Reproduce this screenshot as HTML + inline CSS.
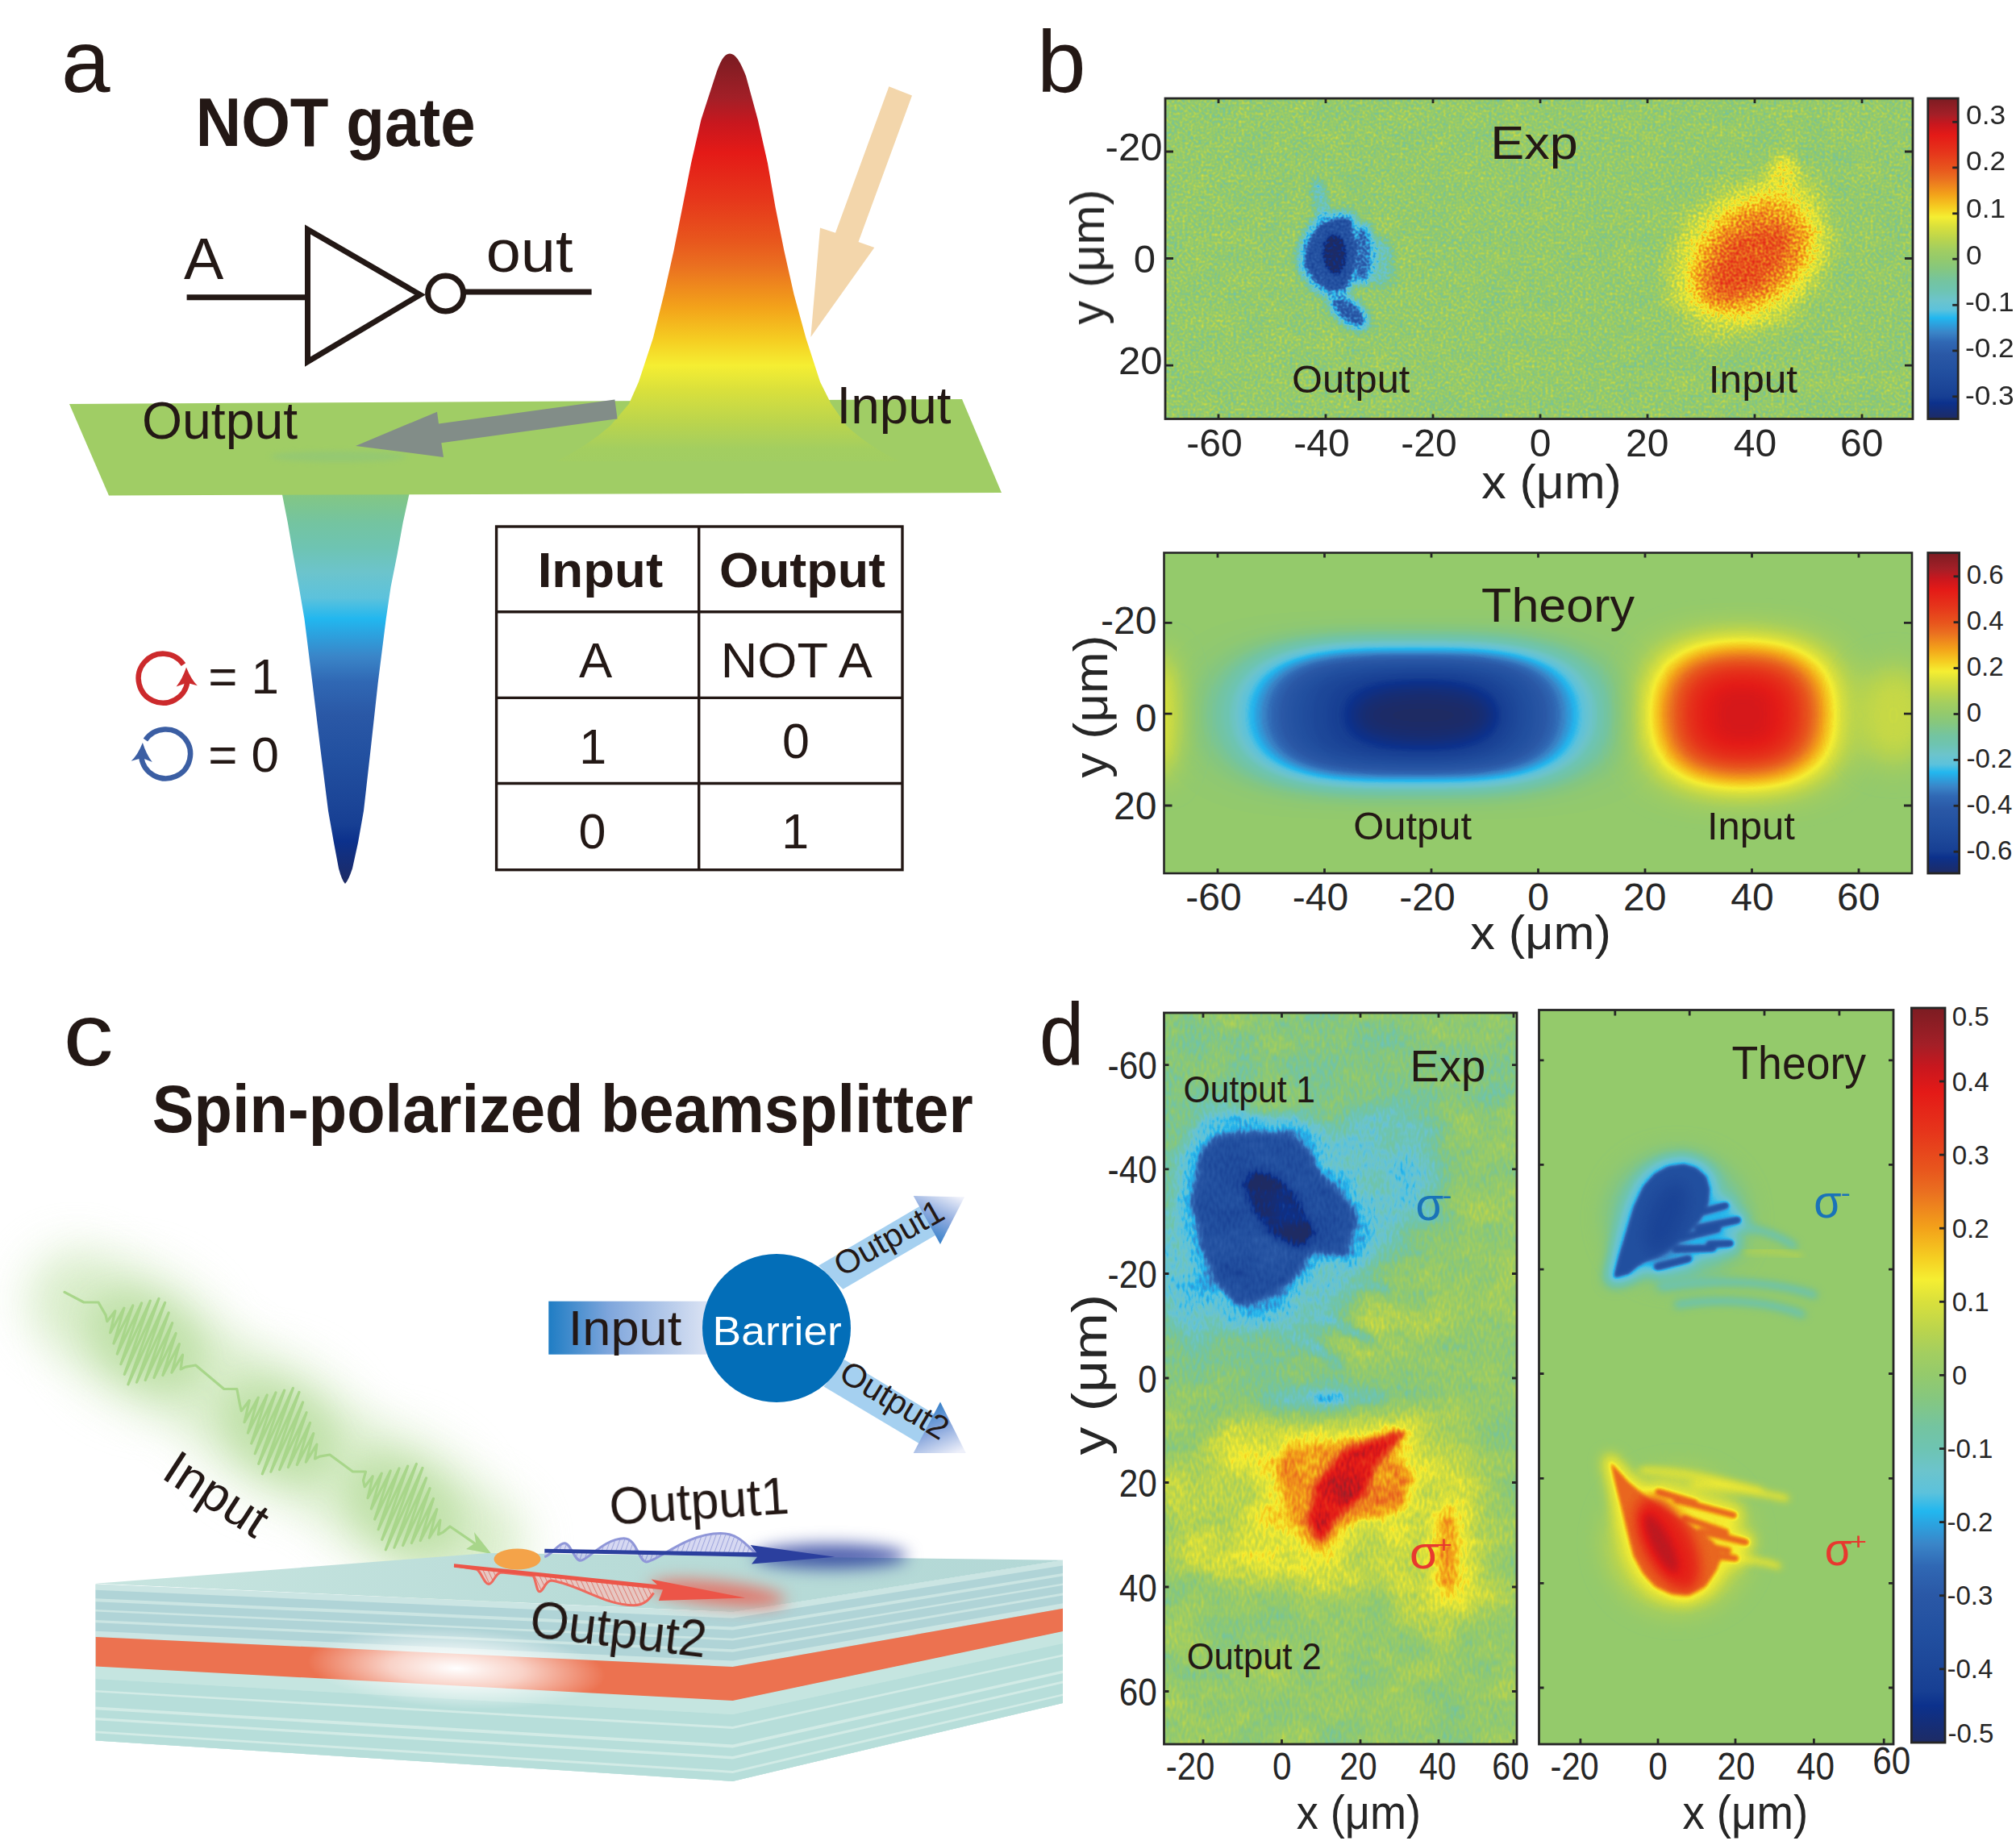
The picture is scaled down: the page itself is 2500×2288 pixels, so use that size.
<!DOCTYPE html>
<html><head><meta charset="utf-8"><title>Figure</title>
<style>html,body{margin:0;padding:0;background:#fff}svg{display:block}text{font-family:"Liberation Sans",sans-serif}</style>
</head><body>
<svg width="2500" height="2288" viewBox="0 0 2500 2288">
<defs>
<filter id="cm" x="0" y="0" width="1" height="1" color-interpolation-filters="sRGB"><feComponentTransfer><feFuncR type="table" tableValues="0.118 0.104 0.089 0.075 0.061 0.047 0.069 0.090 0.097 0.103 0.110 0.115 0.119 0.124 0.129 0.133 0.140 0.146 0.152 0.158 0.165 0.171 0.176 0.182 0.188 0.201 0.214 0.227 0.207 0.186 0.165 0.144 0.179 0.270 0.361 0.382 0.403 0.424 0.426 0.429 0.431 0.439 0.447 0.455 0.473 0.490 0.508 0.525 0.544 0.562 0.580 0.600 0.620 0.639 0.668 0.697 0.725 0.757 0.788 0.820 0.851 0.888 0.924 0.961 0.961 0.961 0.961 0.959 0.957 0.955 0.953 0.946 0.939 0.932 0.925 0.918 0.915 0.912 0.910 0.908 0.907 0.905 0.904 0.902 0.901 0.899 0.898 0.896 0.895 0.878 0.847 0.816 0.784 0.736 0.688 0.639 0.609 0.578 0.547 0.517 0.486"/><feFuncG type="table" tableValues="0.169 0.173 0.178 0.183 0.187 0.192 0.220 0.247 0.256 0.265 0.275 0.282 0.290 0.298 0.306 0.314 0.320 0.326 0.333 0.339 0.345 0.361 0.376 0.392 0.408 0.446 0.484 0.522 0.565 0.608 0.651 0.695 0.726 0.744 0.761 0.763 0.766 0.769 0.769 0.769 0.769 0.769 0.769 0.769 0.772 0.775 0.777 0.780 0.784 0.788 0.792 0.797 0.803 0.808 0.816 0.824 0.831 0.843 0.855 0.867 0.878 0.897 0.915 0.933 0.892 0.850 0.808 0.765 0.722 0.678 0.635 0.595 0.555 0.515 0.475 0.435 0.403 0.370 0.337 0.312 0.287 0.262 0.237 0.212 0.192 0.172 0.152 0.132 0.112 0.100 0.097 0.094 0.090 0.101 0.111 0.122 0.119 0.117 0.115 0.112 0.110"/><feFuncB type="table" tableValues="0.392 0.424 0.455 0.486 0.518 0.549 0.563 0.576 0.583 0.590 0.596 0.602 0.609 0.615 0.621 0.627 0.632 0.637 0.642 0.646 0.651 0.665 0.678 0.692 0.706 0.732 0.758 0.784 0.818 0.852 0.886 0.920 0.922 0.893 0.863 0.842 0.821 0.800 0.766 0.732 0.698 0.675 0.651 0.627 0.594 0.561 0.527 0.494 0.471 0.447 0.424 0.408 0.392 0.376 0.353 0.329 0.306 0.288 0.271 0.253 0.235 0.222 0.209 0.196 0.175 0.154 0.133 0.125 0.118 0.110 0.102 0.107 0.111 0.116 0.121 0.125 0.122 0.118 0.114 0.112 0.111 0.109 0.107 0.106 0.103 0.100 0.097 0.094 0.092 0.094 0.102 0.110 0.118 0.129 0.141 0.153 0.149 0.145 0.141 0.137 0.133"/></feComponentTransfer></filter>
<filter id="cmn1" x="0" y="0" width="1" height="1" color-interpolation-filters="sRGB"><feTurbulence type="fractalNoise" baseFrequency="0.3 0.3" numOctaves="1" seed="3" result="n"/><feColorMatrix in="n" type="matrix" values="1 0 0 0 0  1 0 0 0 0  1 0 0 0 0  0 0 0 0 1" result="ng"/><feComposite in="SourceGraphic" in2="ng" operator="arithmetic" k1="0" k2="1" k3="0.24" k4="-0.120" result="s"/>
<feTurbulence type="fractalNoise" baseFrequency="0.03 0.039" numOctaves="2" seed="14" result="m"/><feColorMatrix in="m" type="matrix" values="1 0 0 0 0  1 0 0 0 0  1 0 0 0 0  0 0 0 0 1" result="mg"/><feComposite in="s" in2="mg" operator="arithmetic" k1="0" k2="1" k3="0.05" k4="-0.025" result="s2"/>
<feComponentTransfer in="s2"><feFuncR type="table" tableValues="0.118 0.104 0.089 0.075 0.061 0.047 0.069 0.090 0.097 0.103 0.110 0.115 0.119 0.124 0.129 0.133 0.140 0.146 0.152 0.158 0.165 0.171 0.176 0.182 0.188 0.201 0.214 0.227 0.207 0.186 0.165 0.144 0.179 0.270 0.361 0.382 0.403 0.424 0.426 0.429 0.431 0.439 0.447 0.455 0.473 0.490 0.508 0.525 0.544 0.562 0.580 0.600 0.620 0.639 0.668 0.697 0.725 0.757 0.788 0.820 0.851 0.888 0.924 0.961 0.961 0.961 0.961 0.959 0.957 0.955 0.953 0.946 0.939 0.932 0.925 0.918 0.915 0.912 0.910 0.908 0.907 0.905 0.904 0.902 0.901 0.899 0.898 0.896 0.895 0.878 0.847 0.816 0.784 0.736 0.688 0.639 0.609 0.578 0.547 0.517 0.486"/><feFuncG type="table" tableValues="0.169 0.173 0.178 0.183 0.187 0.192 0.220 0.247 0.256 0.265 0.275 0.282 0.290 0.298 0.306 0.314 0.320 0.326 0.333 0.339 0.345 0.361 0.376 0.392 0.408 0.446 0.484 0.522 0.565 0.608 0.651 0.695 0.726 0.744 0.761 0.763 0.766 0.769 0.769 0.769 0.769 0.769 0.769 0.769 0.772 0.775 0.777 0.780 0.784 0.788 0.792 0.797 0.803 0.808 0.816 0.824 0.831 0.843 0.855 0.867 0.878 0.897 0.915 0.933 0.892 0.850 0.808 0.765 0.722 0.678 0.635 0.595 0.555 0.515 0.475 0.435 0.403 0.370 0.337 0.312 0.287 0.262 0.237 0.212 0.192 0.172 0.152 0.132 0.112 0.100 0.097 0.094 0.090 0.101 0.111 0.122 0.119 0.117 0.115 0.112 0.110"/><feFuncB type="table" tableValues="0.392 0.424 0.455 0.486 0.518 0.549 0.563 0.576 0.583 0.590 0.596 0.602 0.609 0.615 0.621 0.627 0.632 0.637 0.642 0.646 0.651 0.665 0.678 0.692 0.706 0.732 0.758 0.784 0.818 0.852 0.886 0.920 0.922 0.893 0.863 0.842 0.821 0.800 0.766 0.732 0.698 0.675 0.651 0.627 0.594 0.561 0.527 0.494 0.471 0.447 0.424 0.408 0.392 0.376 0.353 0.329 0.306 0.288 0.271 0.253 0.235 0.222 0.209 0.196 0.175 0.154 0.133 0.125 0.118 0.110 0.102 0.107 0.111 0.116 0.121 0.125 0.122 0.118 0.114 0.112 0.111 0.109 0.107 0.106 0.103 0.100 0.097 0.094 0.092 0.094 0.102 0.110 0.118 0.129 0.141 0.153 0.149 0.145 0.141 0.137 0.133"/></feComponentTransfer></filter>
<filter id="cmn2" x="0" y="0" width="1" height="1" color-interpolation-filters="sRGB"><feTurbulence type="fractalNoise" baseFrequency="0.3 0.12" numOctaves="1" seed="7" result="n"/><feColorMatrix in="n" type="matrix" values="1 0 0 0 0  1 0 0 0 0  1 0 0 0 0  0 0 0 0 1" result="ng"/><feComposite in="SourceGraphic" in2="ng" operator="arithmetic" k1="0" k2="1" k3="0.14" k4="-0.070" result="s"/>
<feTurbulence type="fractalNoise" baseFrequency="0.018 0.023" numOctaves="2" seed="18" result="m"/><feColorMatrix in="m" type="matrix" values="1 0 0 0 0  1 0 0 0 0  1 0 0 0 0  0 0 0 0 1" result="mg"/><feComposite in="s" in2="mg" operator="arithmetic" k1="0" k2="1" k3="0.13" k4="-0.065" result="s2"/>
<feComponentTransfer in="s2"><feFuncR type="table" tableValues="0.118 0.104 0.089 0.075 0.061 0.047 0.069 0.090 0.097 0.103 0.110 0.115 0.119 0.124 0.129 0.133 0.140 0.146 0.152 0.158 0.165 0.171 0.176 0.182 0.188 0.201 0.214 0.227 0.207 0.186 0.165 0.144 0.179 0.270 0.361 0.382 0.403 0.424 0.426 0.429 0.431 0.439 0.447 0.455 0.473 0.490 0.508 0.525 0.544 0.562 0.580 0.600 0.620 0.639 0.668 0.697 0.725 0.757 0.788 0.820 0.851 0.888 0.924 0.961 0.961 0.961 0.961 0.959 0.957 0.955 0.953 0.946 0.939 0.932 0.925 0.918 0.915 0.912 0.910 0.908 0.907 0.905 0.904 0.902 0.901 0.899 0.898 0.896 0.895 0.878 0.847 0.816 0.784 0.736 0.688 0.639 0.609 0.578 0.547 0.517 0.486"/><feFuncG type="table" tableValues="0.169 0.173 0.178 0.183 0.187 0.192 0.220 0.247 0.256 0.265 0.275 0.282 0.290 0.298 0.306 0.314 0.320 0.326 0.333 0.339 0.345 0.361 0.376 0.392 0.408 0.446 0.484 0.522 0.565 0.608 0.651 0.695 0.726 0.744 0.761 0.763 0.766 0.769 0.769 0.769 0.769 0.769 0.769 0.769 0.772 0.775 0.777 0.780 0.784 0.788 0.792 0.797 0.803 0.808 0.816 0.824 0.831 0.843 0.855 0.867 0.878 0.897 0.915 0.933 0.892 0.850 0.808 0.765 0.722 0.678 0.635 0.595 0.555 0.515 0.475 0.435 0.403 0.370 0.337 0.312 0.287 0.262 0.237 0.212 0.192 0.172 0.152 0.132 0.112 0.100 0.097 0.094 0.090 0.101 0.111 0.122 0.119 0.117 0.115 0.112 0.110"/><feFuncB type="table" tableValues="0.392 0.424 0.455 0.486 0.518 0.549 0.563 0.576 0.583 0.590 0.596 0.602 0.609 0.615 0.621 0.627 0.632 0.637 0.642 0.646 0.651 0.665 0.678 0.692 0.706 0.732 0.758 0.784 0.818 0.852 0.886 0.920 0.922 0.893 0.863 0.842 0.821 0.800 0.766 0.732 0.698 0.675 0.651 0.627 0.594 0.561 0.527 0.494 0.471 0.447 0.424 0.408 0.392 0.376 0.353 0.329 0.306 0.288 0.271 0.253 0.235 0.222 0.209 0.196 0.175 0.154 0.133 0.125 0.118 0.110 0.102 0.107 0.111 0.116 0.121 0.125 0.122 0.118 0.114 0.112 0.111 0.109 0.107 0.106 0.103 0.100 0.097 0.094 0.092 0.094 0.102 0.110 0.118 0.129 0.141 0.153 0.149 0.145 0.141 0.137 0.133"/></feComponentTransfer></filter>
<filter id="b2" x="-50%" y="-50%" width="200%" height="200%" color-interpolation-filters="sRGB"><feGaussianBlur stdDeviation="2"/></filter>
<filter id="b3" x="-50%" y="-50%" width="200%" height="200%" color-interpolation-filters="sRGB"><feGaussianBlur stdDeviation="3"/></filter>
<filter id="b4" x="-50%" y="-50%" width="200%" height="200%" color-interpolation-filters="sRGB"><feGaussianBlur stdDeviation="4"/></filter>
<filter id="b5" x="-50%" y="-50%" width="200%" height="200%" color-interpolation-filters="sRGB"><feGaussianBlur stdDeviation="5"/></filter>
<filter id="b6" x="-50%" y="-50%" width="200%" height="200%" color-interpolation-filters="sRGB"><feGaussianBlur stdDeviation="6"/></filter>
<filter id="b8" x="-50%" y="-50%" width="200%" height="200%" color-interpolation-filters="sRGB"><feGaussianBlur stdDeviation="8"/></filter>
<filter id="b10" x="-50%" y="-50%" width="200%" height="200%" color-interpolation-filters="sRGB"><feGaussianBlur stdDeviation="10"/></filter>
<filter id="b12" x="-50%" y="-50%" width="200%" height="200%" color-interpolation-filters="sRGB"><feGaussianBlur stdDeviation="12"/></filter>
<filter id="b14" x="-50%" y="-50%" width="200%" height="200%" color-interpolation-filters="sRGB"><feGaussianBlur stdDeviation="14"/></filter>
<filter id="b18" x="-50%" y="-50%" width="200%" height="200%" color-interpolation-filters="sRGB"><feGaussianBlur stdDeviation="18"/></filter>
<filter id="b24" x="-50%" y="-50%" width="200%" height="200%" color-interpolation-filters="sRGB"><feGaussianBlur stdDeviation="24"/></filter>
<filter id="b30" x="-50%" y="-50%" width="200%" height="200%" color-interpolation-filters="sRGB"><feGaussianBlur stdDeviation="30"/></filter>
<filter id="b46_24" x="-60%" y="-60%" width="220%" height="220%" color-interpolation-filters="sRGB"><feGaussianBlur stdDeviation="46 24"/></filter>
<filter id="b36_27" x="-60%" y="-60%" width="220%" height="220%" color-interpolation-filters="sRGB"><feGaussianBlur stdDeviation="36 27"/></filter>
<filter id="b55_22" x="-60%" y="-60%" width="220%" height="220%" color-interpolation-filters="sRGB"><feGaussianBlur stdDeviation="55 22"/></filter>
<filter id="b14_10" x="-60%" y="-60%" width="220%" height="220%" color-interpolation-filters="sRGB"><feGaussianBlur stdDeviation="14 10"/></filter>
<filter id="b20_12" x="-60%" y="-60%" width="220%" height="220%" color-interpolation-filters="sRGB"><feGaussianBlur stdDeviation="20 12"/></filter>
<filter id="b8_3" x="-60%" y="-60%" width="220%" height="220%" color-interpolation-filters="sRGB"><feGaussianBlur stdDeviation="8 3"/></filter>
<filter id="b3_8" x="-60%" y="-60%" width="220%" height="220%" color-interpolation-filters="sRGB"><feGaussianBlur stdDeviation="3 8"/></filter>
<filter id="b10_4" x="-60%" y="-60%" width="220%" height="220%" color-interpolation-filters="sRGB"><feGaussianBlur stdDeviation="10 4"/></filter>
<linearGradient id="cbar" x1="0" y1="0" x2="0" y2="1">
<stop offset="0.0000" stop-color="#7c1c22"/>
<stop offset="0.0500" stop-color="#a31f27"/>
<stop offset="0.0800" stop-color="#c8171e"/>
<stop offset="0.1150" stop-color="#e41a17"/>
<stop offset="0.1700" stop-color="#e6361b"/>
<stop offset="0.2200" stop-color="#e8561d"/>
<stop offset="0.2500" stop-color="#ea6f20"/>
<stop offset="0.3000" stop-color="#f3a21a"/>
<stop offset="0.3400" stop-color="#f5ce22"/>
<stop offset="0.3700" stop-color="#f5ee32"/>
<stop offset="0.4000" stop-color="#d9e03c"/>
<stop offset="0.4400" stop-color="#b9d44e"/>
<stop offset="0.4700" stop-color="#a3ce60"/>
<stop offset="0.5000" stop-color="#94ca6c"/>
<stop offset="0.5300" stop-color="#86c77e"/>
<stop offset="0.5700" stop-color="#74c4a0"/>
<stop offset="0.6000" stop-color="#6ec4b2"/>
<stop offset="0.6300" stop-color="#6cc4cc"/>
<stop offset="0.6600" stop-color="#5cc2dc"/>
<stop offset="0.6850" stop-color="#22b7ef"/>
<stop offset="0.7000" stop-color="#2aa6e2"/>
<stop offset="0.7300" stop-color="#3a85c8"/>
<stop offset="0.7600" stop-color="#3068b4"/>
<stop offset="0.8000" stop-color="#2a58a6"/>
<stop offset="0.8500" stop-color="#2250a0"/>
<stop offset="0.9000" stop-color="#1c4698"/>
<stop offset="0.9300" stop-color="#173f93"/>
<stop offset="0.9500" stop-color="#0c318c"/>
<stop offset="1.0000" stop-color="#1e2b64"/>
</linearGradient>
</defs>
<rect width="2500" height="2288" fill="#fff"/>
<g id="panel-a">
<defs><linearGradient id="gdip" gradientUnits="userSpaceOnUse" x1="0" y1="575" x2="0" y2="1095">
<stop offset="0" stop-color="#a0cd65"/>
<stop offset="0.0600" stop-color="#86c77e"/>
<stop offset="0.1400" stop-color="#74c4a0"/>
<stop offset="0.2000" stop-color="#6ec4b2"/>
<stop offset="0.2600" stop-color="#6cc4cc"/>
<stop offset="0.3200" stop-color="#5cc2dc"/>
<stop offset="0.3700" stop-color="#22b7ef"/>
<stop offset="0.4000" stop-color="#2aa6e2"/>
<stop offset="0.4600" stop-color="#3a85c8"/>
<stop offset="0.5200" stop-color="#3068b4"/>
<stop offset="0.6000" stop-color="#2a58a6"/>
<stop offset="0.7000" stop-color="#2250a0"/>
<stop offset="0.8000" stop-color="#1c4698"/>
<stop offset="0.8600" stop-color="#173f93"/>
<stop offset="0.9000" stop-color="#0c318c"/>
<stop offset="1.0000" stop-color="#1e2b64"/>
</linearGradient>
<linearGradient id="gpeak" gradientUnits="userSpaceOnUse" x1="0" y1="70" x2="0" y2="588">
<stop offset="0.0000" stop-color="#7c1c22"/>
<stop offset="0.1000" stop-color="#a31f27"/>
<stop offset="0.1600" stop-color="#c8171e"/>
<stop offset="0.2300" stop-color="#e41a17"/>
<stop offset="0.3400" stop-color="#e6361b"/>
<stop offset="0.4400" stop-color="#e8561d"/>
<stop offset="0.5000" stop-color="#ea6f20"/>
<stop offset="0.6000" stop-color="#f3a21a"/>
<stop offset="0.6800" stop-color="#f5ce22"/>
<stop offset="0.7400" stop-color="#f5ee32"/>
<stop offset="0.8000" stop-color="#d9e03c"/>
<stop offset="0.8800" stop-color="#b9d44e"/>
<stop offset="0.9400" stop-color="#a3ce60"/>
<stop offset="1" stop-color="#a0cd65"/>
</linearGradient></defs>
<path d="M349.7,612.0 L356.8,648.0 L363.6,688.0 L370.7,727.8 L377.5,767.5 L387.4,846.8 L397.0,926.0 L407.0,1005.6 L414.0,1045.0 L420.0,1077.0 Q424,1092 428,1096 Q432,1092 437.0,1077.0 L444.0,1045.0 L451.0,1005.6 L460.0,926.0 L468.7,846.8 L478.7,767.5 L484.6,727.8 L492.5,688.0 L499.7,648.0 L507.6,612.0 Z" fill="url(#gdip)"/>
<polygon points="86,501 1193,495 1242,611 135,614.5" fill="#a0cd65"/>
<ellipse cx="420" cy="566" rx="85" ry="7" fill="#8ec67a" opacity="0.6" filter="url(#b3)"/>
<path d="M690,572 Q730,552 757.0,527.8 L780.0,500.7 L792.0,473.6 L809.8,419.4 L823.3,365.2 L835.5,311.0 L846.3,256.8 L857.0,202.6 L869.4,148.4 L887.0,94.2 C893,76 898,66.5 905,66.5 C912,66.5 918,76 925.0,94.2 L939.8,148.4 L952.0,202.6 L961.5,256.8 L972.4,311.0 L984.6,365.2 L999.5,419.4 L1017.0,473.6 L1030.6,500.7 L1049.6,527.8 Q1075,552 1115,572 Z" fill="url(#gpeak)"/>
<polygon points="1102.4,107.2 1131,118.6 1064.5,300 1084.3,307 1005.4,418 1017,282.5 1036,288.8" fill="#f3d6ab"/>
<polygon points="762.4,495.6 765.6,519.4 547.3,549.2 550,567 441,553 542,510.7 544,525.4" fill="#828d88"/>
<text x="75.9" y="114.0" font-size="110" fill="#231815" textLength="60.6" lengthAdjust="spacingAndGlyphs">a</text>
<text x="242.8" y="181.0" font-size="85" fill="#231815" font-weight="bold" textLength="346.9" lengthAdjust="spacingAndGlyphs">NOT gate</text>
<text x="227.9" y="346.0" font-size="72" fill="#231815" textLength="49.3" lengthAdjust="spacingAndGlyphs">A</text>
<text x="602.7" y="337.0" font-size="74" fill="#231815" textLength="107.8" lengthAdjust="spacingAndGlyphs">out</text>
<text x="176.0" y="544.4" font-size="64" fill="#231815" textLength="193.2" lengthAdjust="spacingAndGlyphs">Output</text>
<text x="1037.6" y="524.7" font-size="64" fill="#231815" textLength="141.9" lengthAdjust="spacingAndGlyphs">Input</text>
<g fill="none" stroke="#231815" stroke-width="7">
<line x1="231.6" y1="368.7" x2="381" y2="368.7"/>
<polygon points="381.5,284.5 381.5,448.5 521,365.5" stroke-linejoin="miter"/>
<circle cx="552.6" cy="364" r="22"/>
<line x1="576" y1="362" x2="733.6" y2="362"/>
</g>
<path d="M232.4,845.4 A30.5,30.5 0 1 1 227.5,824.1" fill="none" stroke="#cc2a2c" stroke-width="6.5"/>
<path d="M231.0,827.6 Q237.2,843.2 244.8,850.2 L231.7,846.7 L218.6,851.4 Q226.2,842.2 231.0,827.6 Z" fill="#cc2a2c"/>
<path d="M175.3,939.1 A30.5,30.5 0 1 0 180.4,917.6" fill="none" stroke="#3b5ea3" stroke-width="6.5"/>
<path d="M176.9,921.0 Q170.5,936.9 162.6,943.7 L176.3,940.1 L188.8,944.9 Q181.5,935.9 176.9,921.0 Z" fill="#3b5ea3"/>
<text x="258.2" y="860.0" font-size="62" fill="#231815" textLength="87.9" lengthAdjust="spacingAndGlyphs">= 1</text>
<text x="258.2" y="956.5" font-size="62" fill="#231815" textLength="87.9" lengthAdjust="spacingAndGlyphs">= 0</text>
<g fill="none" stroke="#231815" stroke-width="3.4">
<rect x="615.6" y="653" width="503.4" height="425.7"/>
<line x1="866.7" y1="653" x2="866.7" y2="1078.7"/>
<line x1="615.6" y1="758.7" x2="1119" y2="758.7"/>
<line x1="615.6" y1="865.4" x2="1119" y2="865.4"/>
<line x1="615.6" y1="971.5" x2="1119" y2="971.5"/>
</g>
<text x="666.7" y="727.8" font-size="61" fill="#231815" font-weight="bold" textLength="155.5" lengthAdjust="spacingAndGlyphs">Input</text>
<text x="892.0" y="727.8" font-size="61" fill="#231815" font-weight="bold" textLength="206.0" lengthAdjust="spacingAndGlyphs">Output</text>
<text x="717.9" y="839.7" font-size="61" fill="#231815" textLength="41.2" lengthAdjust="spacingAndGlyphs">A</text>
<text x="893.8" y="839.7" font-size="61" fill="#231815" textLength="188.1" lengthAdjust="spacingAndGlyphs">NOT A</text>
<text x="718.2" y="946.8" font-size="61" fill="#231815" textLength="33.9" lengthAdjust="spacingAndGlyphs">1</text>
<text x="970.0" y="940.0" font-size="61" fill="#231815" textLength="33.9" lengthAdjust="spacingAndGlyphs">0</text>
<text x="717.6" y="1052.4" font-size="61" fill="#231815" textLength="33.9" lengthAdjust="spacingAndGlyphs">0</text>
<text x="969.2" y="1052.4" font-size="61" fill="#231815" textLength="33.9" lengthAdjust="spacingAndGlyphs">1</text>
</g>
<g id="panel-b">
<text x="1286.0" y="114.0" font-size="110" fill="#231815" textLength="60.6" lengthAdjust="spacingAndGlyphs">b</text>
<clipPath id="cb1"><rect x="1445" y="122" width="927.0" height="397.5"/></clipPath>
<g clip-path="url(#cb1)"><g filter="url(#cmn1)">
<rect x="1405" y="82" width="1007.0" height="477.5" fill="#808080"/>
<g filter="url(#b5)">
<ellipse cx="1638" cy="248" rx="9" ry="30" fill="#616161" transform="rotate(-12 1638 248)"/>
<ellipse cx="1712" cy="326" rx="16" ry="30" fill="#666666"/>
</g><g filter="url(#b4)">
<polygon points="1637.7,266.5 1666.8,260.4 1679.9,264.4 1686.4,288.4 1692.3,298.8 1687.7,340.7 1676.8,358.5 1670.4,368.2 1648.2,371.7 1625.7,358.2 1609.8,336.1 1608.5,312.8 1616.4,288.8 1628.8,273.5" fill="#505050"/>
<ellipse cx="1691" cy="315" rx="15" ry="40" fill="#4f4f4f"/>
<ellipse cx="1673" cy="387" rx="31" ry="17" fill="#4f4f4f" transform="rotate(40 1673 387)"/>
</g><g filter="url(#b2)">
<polygon points="1641.0,277.0 1664.0,271.0 1674.6,274.0 1677.6,295.0 1682.0,302.7 1679.0,334.0 1671.6,348.8 1667.0,357.7 1649.0,360.7 1631.4,348.8 1619.5,331.0 1619.5,313.0 1625.5,295.0 1634.4,283.0" fill="#292929"/>
<ellipse cx="1689" cy="316" rx="8" ry="30" fill="#3d3d3d"/>
<ellipse cx="1673" cy="387" rx="22" ry="9.5" fill="#363636" transform="rotate(40 1673 387)"/>
</g><g filter="url(#b2)">
<ellipse cx="1655" cy="315" rx="14.5" ry="24.5" fill="#000000" transform="rotate(-4 1655 315)"/>
</g>
<ellipse cx="2170" cy="318" rx="112" ry="86" fill="#999999" transform="rotate(-40 2170 318)" filter="url(#b14)"/>
<ellipse cx="2212" cy="222" rx="20" ry="32" fill="#9e9e9e" filter="url(#b8)"/>
<ellipse cx="2172" cy="318" rx="84" ry="60" fill="#b5b5b5" transform="rotate(-40 2172 318)" filter="url(#b10)"/>
<ellipse cx="2168" cy="324" rx="58" ry="32" fill="#c9c9c9" transform="rotate(-40 2168 324)" filter="url(#b10)"/>
</g></g>
<rect x="1445" y="122" width="927.0" height="397.5" fill="none" stroke="#262626" stroke-width="2.8"/>
<path d="M1511.0,122 v6 M1511.0,519.5 v-6" stroke="#262626" stroke-width="2.8" fill="none"/>
<path d="M1644.0,122 v6 M1644.0,519.5 v-6" stroke="#262626" stroke-width="2.8" fill="none"/>
<path d="M1777.0,122 v6 M1777.0,519.5 v-6" stroke="#262626" stroke-width="2.8" fill="none"/>
<path d="M1910.0,122 v6 M1910.0,519.5 v-6" stroke="#262626" stroke-width="2.8" fill="none"/>
<path d="M2043.0,122 v6 M2043.0,519.5 v-6" stroke="#262626" stroke-width="2.8" fill="none"/>
<path d="M2176.0,122 v6 M2176.0,519.5 v-6" stroke="#262626" stroke-width="2.8" fill="none"/>
<path d="M2309.0,122 v6 M2309.0,519.5 v-6" stroke="#262626" stroke-width="2.8" fill="none"/>
<path d="M1445,188.0 h10 M2372,188.0 h-10" stroke="#262626" stroke-width="2.8" fill="none"/>
<path d="M1445,320.5 h10 M2372,320.5 h-10" stroke="#262626" stroke-width="2.8" fill="none"/>
<path d="M1445,453.2 h10 M2372,453.2 h-10" stroke="#262626" stroke-width="2.8" fill="none"/>
<text x="1471.2" y="566.0" font-size="48" fill="#262626" textLength="69.4" lengthAdjust="spacingAndGlyphs">-60</text>
<text x="1604.2" y="566.0" font-size="48" fill="#262626" textLength="69.4" lengthAdjust="spacingAndGlyphs">-40</text>
<text x="1737.2" y="566.0" font-size="48" fill="#262626" textLength="69.4" lengthAdjust="spacingAndGlyphs">-20</text>
<text x="1896.7" y="566.0" font-size="48" fill="#262626" textLength="26.7" lengthAdjust="spacingAndGlyphs">0</text>
<text x="2016.0" y="566.0" font-size="48" fill="#262626" textLength="53.4" lengthAdjust="spacingAndGlyphs">20</text>
<text x="2149.7" y="566.0" font-size="48" fill="#262626" textLength="53.4" lengthAdjust="spacingAndGlyphs">40</text>
<text x="2282.0" y="566.0" font-size="48" fill="#262626" textLength="53.4" lengthAdjust="spacingAndGlyphs">60</text>
<text x="1370.6" y="198.9" font-size="49" fill="#262626" textLength="70.8" lengthAdjust="spacingAndGlyphs">-20</text>
<text x="1405.7" y="337.8" font-size="49" fill="#262626" textLength="27.3" lengthAdjust="spacingAndGlyphs">0</text>
<text x="1386.9" y="464.1" font-size="49" fill="#262626" textLength="54.5" lengthAdjust="spacingAndGlyphs">20</text>
<text x="1837.3" y="617.5" font-size="60" fill="#262626" textLength="173.5" lengthAdjust="spacingAndGlyphs">x (μm)</text>
<text transform="translate(1369.0,402.5) rotate(-90)" x="-0.1" y="0" font-size="60" fill="#262626" textLength="167.8" lengthAdjust="spacingAndGlyphs">y (μm)</text>
<text x="1848.3" y="197.0" font-size="58" fill="#231815" textLength="108.3" lengthAdjust="spacingAndGlyphs">Exp</text>
<text x="1602.0" y="487.0" font-size="48" fill="#231815" textLength="146.4" lengthAdjust="spacingAndGlyphs">Output</text>
<text x="2118.8" y="486.5" font-size="48" fill="#231815" textLength="110.3" lengthAdjust="spacingAndGlyphs">Input</text>
<rect x="2390.8" y="122" width="37.4" height="397.5" fill="url(#cbar)" stroke="#262626" stroke-width="2.8"/>
<path d="M2428.2,151.3 h-7" stroke="#262626" stroke-width="2.8" fill="none"/>
<text x="2438.1" y="153.9" font-size="33" fill="#262626" textLength="49.1" lengthAdjust="spacingAndGlyphs">0.3</text>
<path d="M2428.2,207.9 h-7" stroke="#262626" stroke-width="2.8" fill="none"/>
<text x="2438.1" y="211.2" font-size="33" fill="#262626" textLength="49.1" lengthAdjust="spacingAndGlyphs">0.2</text>
<path d="M2428.2,264.8 h-7" stroke="#262626" stroke-width="2.8" fill="none"/>
<text x="2438.1" y="269.8" font-size="33" fill="#262626" textLength="49.1" lengthAdjust="spacingAndGlyphs">0.1</text>
<path d="M2428.2,321.2 h-7" stroke="#262626" stroke-width="2.8" fill="none"/>
<text x="2438.1" y="327.8" font-size="33" fill="#262626" textLength="19.6" lengthAdjust="spacingAndGlyphs">0</text>
<path d="M2428.2,378.3 h-7" stroke="#262626" stroke-width="2.8" fill="none"/>
<text x="2436.9" y="385.6" font-size="33" fill="#262626" textLength="60.8" lengthAdjust="spacingAndGlyphs">-0.1</text>
<path d="M2428.2,435.0 h-7" stroke="#262626" stroke-width="2.8" fill="none"/>
<text x="2436.9" y="442.9" font-size="33" fill="#262626" textLength="60.8" lengthAdjust="spacingAndGlyphs">-0.2</text>
<path d="M2428.2,491.8 h-7" stroke="#262626" stroke-width="2.8" fill="none"/>
<text x="2436.9" y="502.2" font-size="33" fill="#262626" textLength="60.8" lengthAdjust="spacingAndGlyphs">-0.3</text>
<clipPath id="cb2"><rect x="1443.5" y="685.5" width="927.5" height="397.5"/></clipPath>
<g clip-path="url(#cb2)"><g filter="url(#cm)">
<rect x="1403.5" y="645.5" width="1007.5" height="477.5" fill="#808080"/>
<rect x="1558" y="808" width="390" height="157" rx="78" fill="#131313" filter="url(#b55_22)"/>
<rect x="2060" y="806" width="202" height="160" rx="60" fill="#e6e6e6" filter="url(#b36_27)"/>
<ellipse cx="1765" cy="887" rx="96" ry="38" fill="#000000" filter="url(#b18)"/>
<g filter="url(#b18)">
<ellipse cx="1436" cy="887" rx="26" ry="80" fill="#9e9e9e"/>
<ellipse cx="2348" cy="887" rx="50" ry="62" fill="#939393"/>
</g>
</g></g>
<rect x="1443.5" y="685.5" width="927.5" height="397.5" fill="none" stroke="#262626" stroke-width="2.6"/>
<path d="M1510.0,685.5 v6 M1510.0,1083 v-6" stroke="#262626" stroke-width="2.8" fill="none"/>
<path d="M1642.5,685.5 v6 M1642.5,1083 v-6" stroke="#262626" stroke-width="2.8" fill="none"/>
<path d="M1775.0,685.5 v6 M1775.0,1083 v-6" stroke="#262626" stroke-width="2.8" fill="none"/>
<path d="M1907.5,685.5 v6 M1907.5,1083 v-6" stroke="#262626" stroke-width="2.8" fill="none"/>
<path d="M2040.0,685.5 v6 M2040.0,1083 v-6" stroke="#262626" stroke-width="2.8" fill="none"/>
<path d="M2172.5,685.5 v6 M2172.5,1083 v-6" stroke="#262626" stroke-width="2.8" fill="none"/>
<path d="M2305.0,685.5 v6 M2305.0,1083 v-6" stroke="#262626" stroke-width="2.8" fill="none"/>
<path d="M1443.5,772.3 h10 M2371,772.3 h-10" stroke="#262626" stroke-width="2.8" fill="none"/>
<path d="M1443.5,885.2 h10 M2371,885.2 h-10" stroke="#262626" stroke-width="2.8" fill="none"/>
<path d="M1443.5,999.0 h10 M2371,999.0 h-10" stroke="#262626" stroke-width="2.8" fill="none"/>
<text x="1470.2" y="1129.0" font-size="48" fill="#262626" textLength="69.4" lengthAdjust="spacingAndGlyphs">-60</text>
<text x="1602.7" y="1129.0" font-size="48" fill="#262626" textLength="69.4" lengthAdjust="spacingAndGlyphs">-40</text>
<text x="1735.2" y="1129.0" font-size="48" fill="#262626" textLength="69.4" lengthAdjust="spacingAndGlyphs">-20</text>
<text x="1894.2" y="1129.0" font-size="48" fill="#262626" textLength="26.7" lengthAdjust="spacingAndGlyphs">0</text>
<text x="2013.0" y="1129.0" font-size="48" fill="#262626" textLength="53.4" lengthAdjust="spacingAndGlyphs">20</text>
<text x="2146.2" y="1129.0" font-size="48" fill="#262626" textLength="53.4" lengthAdjust="spacingAndGlyphs">40</text>
<text x="2278.0" y="1129.0" font-size="48" fill="#262626" textLength="53.4" lengthAdjust="spacingAndGlyphs">60</text>
<text x="1365.0" y="786.0" font-size="48" fill="#262626" textLength="69.4" lengthAdjust="spacingAndGlyphs">-20</text>
<text x="1407.7" y="906.5" font-size="48" fill="#262626" textLength="26.7" lengthAdjust="spacingAndGlyphs">0</text>
<text x="1381.0" y="1015.8" font-size="48" fill="#262626" textLength="53.4" lengthAdjust="spacingAndGlyphs">20</text>
<text x="1823.3" y="1177.0" font-size="60" fill="#262626" textLength="174.5" lengthAdjust="spacingAndGlyphs">x (μm)</text>
<text transform="translate(1373.0,964.5) rotate(-90)" x="-0.2" y="0" font-size="60" fill="#262626" textLength="177.0" lengthAdjust="spacingAndGlyphs">y (μm)</text>
<text x="1837.1" y="771.0" font-size="60" fill="#231815" textLength="190.0" lengthAdjust="spacingAndGlyphs">Theory</text>
<text x="1678.2" y="1040.6" font-size="48" fill="#231815" textLength="146.8" lengthAdjust="spacingAndGlyphs">Output</text>
<text x="2117.0" y="1040.6" font-size="48" fill="#231815" textLength="108.9" lengthAdjust="spacingAndGlyphs">Input</text>
<rect x="2390.8" y="685.5" width="38.8" height="397.5" fill="url(#cbar)" stroke="#262626" stroke-width="2.8"/>
<path d="M2429.6,714.8 h-7" stroke="#262626" stroke-width="2.8" fill="none"/>
<text x="2438.7" y="724.3" font-size="33" fill="#262626" textLength="45.9" lengthAdjust="spacingAndGlyphs">0.6</text>
<path d="M2429.6,771.7 h-7" stroke="#262626" stroke-width="2.8" fill="none"/>
<text x="2438.7" y="781.2" font-size="33" fill="#262626" textLength="45.9" lengthAdjust="spacingAndGlyphs">0.4</text>
<path d="M2429.6,828.6 h-7" stroke="#262626" stroke-width="2.8" fill="none"/>
<text x="2438.7" y="838.1" font-size="33" fill="#262626" textLength="45.9" lengthAdjust="spacingAndGlyphs">0.2</text>
<path d="M2429.6,885.5 h-7" stroke="#262626" stroke-width="2.8" fill="none"/>
<text x="2438.7" y="895.0" font-size="33" fill="#262626" textLength="18.4" lengthAdjust="spacingAndGlyphs">0</text>
<path d="M2429.6,942.4 h-7" stroke="#262626" stroke-width="2.8" fill="none"/>
<text x="2438.5" y="951.9" font-size="33" fill="#262626" textLength="56.9" lengthAdjust="spacingAndGlyphs">-0.2</text>
<path d="M2429.6,999.3 h-7" stroke="#262626" stroke-width="2.8" fill="none"/>
<text x="2438.5" y="1008.8" font-size="33" fill="#262626" textLength="56.9" lengthAdjust="spacingAndGlyphs">-0.4</text>
<path d="M2429.6,1056.2 h-7" stroke="#262626" stroke-width="2.8" fill="none"/>
<text x="2438.5" y="1065.7" font-size="33" fill="#262626" textLength="56.9" lengthAdjust="spacingAndGlyphs">-0.6</text>
</g>
<g id="panel-c">
<text x="78.4" y="1320.5" font-size="110" fill="#231815" textLength="62.2" lengthAdjust="spacingAndGlyphs">c</text>
<text x="188.8" y="1404.0" font-size="84" fill="#231815" font-weight="bold" textLength="1017.8" lengthAdjust="spacingAndGlyphs">Spin-polarized beamsplitter</text>
<defs>
<linearGradient id="gin" x1="0" y1="0" x2="1" y2="0"><stop offset="0" stop-color="#1f7dc4"/><stop offset="0.35" stop-color="#7fa6dc"/><stop offset="1" stop-color="#e9ecf7"/></linearGradient>
<linearGradient id="gh1" gradientUnits="userSpaceOnUse" x1="1158" y1="1543" x2="1186" y2="1483"><stop offset="0" stop-color="#2d7cc7"/><stop offset="0.5" stop-color="#8aa8dd"/><stop offset="1" stop-color="#eef0fa"/></linearGradient>
<linearGradient id="gh2" gradientUnits="userSpaceOnUse" x1="1158" y1="1738" x2="1186" y2="1802"><stop offset="0" stop-color="#2d7cc7"/><stop offset="0.5" stop-color="#8aa8dd"/><stop offset="1" stop-color="#eef0fa"/></linearGradient>
</defs>
<rect x="680.3" y="1613.7" width="215" height="66" fill="url(#gin)"/>
<polygon points="1015.2,1569.5 1143.8,1494 1159.7,1532 1045.4,1598.7" fill="#a5d0f0"/>
<polygon points="1047,1686 1159.7,1754.3 1143.8,1792.4 1021.6,1719.4" fill="#a5d0f0"/>
<polygon points="1132.7,1483 1196,1484.4 1166,1543" fill="url(#gh1)"/>
<polygon points="1166,1738.4 1197.8,1802 1132.7,1802" fill="url(#gh2)"/>
<circle cx="963" cy="1647" r="92" fill="#036eb8"/>
<text x="704.7" y="1668.0" font-size="61" fill="#231815" textLength="140.6" lengthAdjust="spacingAndGlyphs">Input</text>
<text x="883.6" y="1668.0" font-size="50" fill="#ffffff" textLength="160.3" lengthAdjust="spacingAndGlyphs">Barrier</text>
<text transform="translate(1046.0,1583.0) rotate(-29.5)" x="-2.0" y="0" font-size="41" fill="#231815" textLength="149.0" lengthAdjust="spacingAndGlyphs">Output1</text>
<text transform="translate(1040.0,1711.0) rotate(31)" x="-2.0" y="0" font-size="41" fill="#231815" textLength="149.1" lengthAdjust="spacingAndGlyphs">Output2</text>
<g filter="url(#b30)" opacity="0.85">
<path d="M95,1612 L180,1663 L347,1774 L500,1868 L590,1915" fill="none" stroke="#d2eac0" stroke-width="120" stroke-linecap="round" stroke-linejoin="round"/>
</g>
<g filter="url(#b30)" opacity="0.55">
<ellipse cx="175" cy="1660" rx="105" ry="82" fill="#d6ecc6" transform="rotate(33 175 1660)"/>
<ellipse cx="345" cy="1772" rx="105" ry="82" fill="#d6ecc6" transform="rotate(33 345 1772)"/>
<ellipse cx="498" cy="1866" rx="105" ry="82" fill="#d6ecc6" transform="rotate(33 498 1866)"/>
</g>
<g filter="url(#b18)" opacity="0.9">
<ellipse cx="180.6" cy="1663" rx="78" ry="52" fill="#bfe0a8" transform="rotate(33 180.6 1663)"/>
<ellipse cx="347" cy="1774" rx="78" ry="52" fill="#bfe0a8" transform="rotate(33 347 1774)"/>
<ellipse cx="500" cy="1868" rx="78" ry="52" fill="#bfe0a8" transform="rotate(33 500 1868)"/>
</g>
<polyline points="80.0,1602.4 104.0,1615.0 122.0,1615.0 131.1,1630.9 132.8,1638.7 142.8,1625.8 136.7,1652.7 153.9,1622.1 141.0,1666.0 164.8,1618.9 145.3,1679.0 175.6,1615.9 149.8,1691.7 186.3,1613.1 154.3,1704.3 197.0,1610.5 158.9,1716.8 204.6,1615.4 169.5,1714.2 209.2,1627.9 180.2,1711.5 213.7,1640.6 191.0,1708.6 218.1,1653.5 201.9,1705.5 222.4,1666.6 212.9,1702.1 226.5,1680.2 224.1,1698.0 230.1,1695.1 242.6,1693.0 277.8,1722.5 293.8,1722.5 297.5,1741.9 299.2,1749.7 309.2,1736.8 303.1,1763.7 320.3,1733.1 307.4,1777.0 331.2,1729.9 311.7,1790.0 342.0,1726.9 316.2,1802.7 352.7,1724.1 320.7,1815.3 363.4,1721.5 325.3,1827.8 371.0,1726.4 335.9,1825.2 375.6,1738.9 346.6,1822.5 380.1,1751.6 357.4,1819.6 384.5,1764.5 368.3,1816.5 388.8,1777.6 379.3,1813.1 392.9,1791.2 390.5,1809.0 396.5,1806.1 409.0,1804.0 437.5,1825.0 453.5,1825.0 450.5,1835.9 452.2,1843.7 462.2,1830.8 456.1,1857.7 473.3,1827.1 460.4,1871.0 484.2,1823.9 464.7,1884.0 495.0,1820.9 469.2,1896.7 505.7,1818.1 473.7,1909.3 516.4,1815.5 478.3,1921.8 524.0,1820.4 488.9,1919.2 528.6,1832.9 499.6,1916.5 533.1,1845.6 510.4,1913.6 537.5,1858.5 521.3,1910.5 541.8,1871.6 532.3,1907.1 545.9,1885.2 543.5,1903.0 549.5,1900.1 558.0,1893.0 596.0,1919.0" fill="none" stroke="#a8d68a" stroke-width="3.2" stroke-linejoin="round" stroke-linecap="round"/>
<polygon points="609.4,1927 578,1921 590,1913 588,1900" fill="#a8d68a"/>
<text transform="translate(203.0,1835.0) rotate(33)" x="-5.8" y="0" font-size="61" fill="#231815" textLength="140.8" lengthAdjust="spacingAndGlyphs">Input</text>
<defs><linearGradient id="gtop" x1="0" y1="0" x2="1" y2="0"><stop offset="0" stop-color="#c8e5e0"/><stop offset="0.5" stop-color="#b9dcd8"/><stop offset="1" stop-color="#b3d8d6"/></linearGradient>
<radialGradient id="gglow" cx="0.5" cy="0.5" r="0.5"><stop offset="0" stop-color="#fff" stop-opacity="1"/><stop offset="0.45" stop-color="#fff" stop-opacity="0.68"/><stop offset="1" stop-color="#fff" stop-opacity="0"/></radialGradient></defs>
<polygon points="118.5,1964.6 908.6,1999.3 908.6,2208.9 118.5,2158.5" fill="#c3e2de"/>
<polygon points="908.6,1999.3 1318,1934.8 1318,2112 908.6,2208.9" fill="#b4dad6"/>
<polygon points="118.7,1963.8 605,1926 1318,1934.8 908.6,1999.3" fill="url(#gtop)"/>
<polygon points="118.7,1964.6 908.6,1999.3 1318.0,1934.8 1318.0,1994.8 908.6,2067.0 118.7,2030.0" fill="#cbe5e3"/>
<polygon points="118.7,1971.8 908.6,2006.7 1318.0,1941.4 1318.0,1951.0 908.6,2017.6 118.7,1982.3" fill="#b0d4d7"/>
<polygon points="118.7,1986.2 908.6,2021.6 1318.0,1954.6 1318.0,1963.6 908.6,2031.8 118.7,1996.0" fill="#b0d4d7"/>
<polygon points="118.7,1998.6 908.6,2034.5 1318.0,1966.0 1318.0,1975.6 908.6,2045.3 118.7,2009.1" fill="#b0d4d7"/>
<polygon points="118.7,2012.3 908.6,2048.7 1318.0,1978.6 1318.0,1988.2 908.6,2059.6 118.7,2022.8" fill="#b0d4d7"/>
<polygon points="118.7,2066.4 908.6,2109.0 1318.0,2023.0 1318.0,2112.0 908.6,2208.9 118.7,2158.5" fill="#d2ebe6"/>
<polygon points="118.7,2066.4 908.6,2109.0 1318.0,2023.0 1318.0,2038.1 908.6,2126.0 118.7,2082.1" fill="#c5e5e0"/>
<polygon points="118.7,2082.1 908.6,2126.0 1318.0,2038.1 1318.0,2051.5 908.6,2141.0 118.7,2095.9" fill="#b7deda"/>
<polygon points="118.7,2098.6 908.6,2144.0 1318.0,2054.2 1318.0,2071.5 908.6,2163.4 118.7,2116.6" fill="#b7deda"/>
<polygon points="118.7,2120.3 908.6,2167.4 1318.0,2075.1 1318.0,2084.4 908.6,2177.9 118.7,2129.9" fill="#b7deda"/>
<polygon points="118.7,2133.2 908.6,2181.4 1318.0,2087.5 1318.0,2100.4 908.6,2195.9 118.7,2146.5" fill="#b7deda"/>
<polygon points="118.7,2149.3 908.6,2198.9 1318.0,2103.1 1318.0,2112.0 908.6,2208.9 118.7,2158.5" fill="#b7deda"/>
<polygon points="118.7,2030.0 908.6,2067.0 1318.0,1994.8 1318.0,2023.0 908.6,2109.0 118.7,2066.4" fill="#ec7250"/>
<ellipse cx="566" cy="2069" rx="185" ry="50" fill="url(#gglow)" transform="rotate(3 566 2069)"/>
<g filter="url(#b10)"><ellipse cx="1030" cy="1930" rx="95" ry="15" fill="#2b3f9e" opacity="0.85"/><ellipse cx="890" cy="1976" rx="85" ry="14" fill="#ee5a4c" opacity="0.8" transform="rotate(6 890 1976)"/></g>
<ellipse cx="641.5" cy="1933.5" rx="29" ry="13" fill="#f4a349"/>
<defs><pattern id="hb" width="5.5" height="5.5" patternUnits="userSpaceOnUse" patternTransform="rotate(20)"><rect width="5.5" height="5.5" fill="#c9ccee"/><line x1="0" y1="0" x2="0" y2="5.5" stroke="#7d86d0" stroke-width="2"/></pattern><pattern id="hr" width="5.5" height="5.5" patternUnits="userSpaceOnUse" patternTransform="rotate(-25)"><rect width="5.5" height="5.5" fill="#f7c2bc"/><line x1="0" y1="0" x2="0" y2="5.5" stroke="#ea5f54" stroke-width="2"/></pattern></defs>
<path d="M675.3,1930.7 C685,1928 692,1913.8 700,1913.8 C708,1913.8 712,1935.3 720,1935.3 C728,1935.3 750,1907.7 773.7,1907.7 C790,1907.7 792,1936.9 801.4,1936.9 C815,1936.9 850,1901.5 893.7,1901.5 C915,1901.5 925,1915 936.7,1926 L675.3,1925 Z" fill="url(#hb)" fill-opacity="0.75"/>
<path d="M675.3,1930.7 C685,1928 692,1913.8 700,1913.8 C708,1913.8 712,1935.3 720,1935.3 C728,1935.3 750,1907.7 773.7,1907.7 C790,1907.7 792,1936.9 801.4,1936.9 C815,1936.9 850,1901.5 893.7,1901.5 C915,1901.5 925,1915 936.7,1926" fill="none" stroke="#8f96d8" stroke-width="3"/>
<polygon points="675.3,1920.8 938,1925.2 930.6,1916 1035.1,1930.7 932,1939.5 939,1930.8 675.3,1925.6" fill="#2b3f9e"/>
<path d="M563,1941.5 L590,1946 C596,1946 600,1964.6 606,1964.6 C612,1964.6 614,1950 622,1950 L660,1954 C664,1954 665,1973.8 669,1973.8 C674,1973.8 676,1960 684,1960 C720,1966 750,1990.7 786,1990.7 C800,1990.7 806,1982 810.6,1975.3 L810,1968 L563,1941.5 Z" fill="url(#hr)" fill-opacity="0.75"/>
<path d="M563,1941.5 L590,1946 C596,1946 600,1964.6 606,1964.6 C612,1964.6 614,1950 622,1950 L660,1954 C664,1954 665,1973.8 669,1973.8 C674,1973.8 676,1960 684,1960 C720,1966 750,1990.7 786,1990.7 C800,1990.7 806,1982 810.6,1975.3" fill="none" stroke="#ee6a5e" stroke-width="3"/>
<polygon points="563,1939.2 815,1965.2 807.6,1958.5 924.4,1981.5 816.8,1985 822,1971.5 563,1943.8" fill="#ec5548"/>
<text transform="translate(760.0,1890.5) rotate(-3.6)" x="-3.0" y="0" font-size="64" fill="#231815" textLength="223.0" lengthAdjust="spacingAndGlyphs">Output1</text>
<text transform="translate(658.4,2029.7) rotate(6.8)" x="-2.9" y="0" font-size="64" fill="#231815" textLength="219.5" lengthAdjust="spacingAndGlyphs">Output2</text>
</g>
<g id="panel-d">
<text x="1288.8" y="1319.7" font-size="110" fill="#231815" textLength="55.7" lengthAdjust="spacingAndGlyphs">d</text>
<clipPath id="cd1"><rect x="1443.5" y="1256" width="437.5" height="907.0"/></clipPath>
<g clip-path="url(#cd1)"><g filter="url(#cmn2)">
<rect x="1403.5" y="1216" width="517.5" height="987.0" fill="#808080"/>
<g filter="url(#b18)">
<ellipse cx="1540" cy="1490" rx="190" ry="175" fill="#5d5d5d"/>
<ellipse cx="1660" cy="1325" rx="260" ry="70" fill="#777777"/>
<ellipse cx="1470" cy="1430" rx="60" ry="90" fill="#707070"/>
<ellipse cx="1735" cy="1455" rx="55" ry="95" fill="#606060"/>
<ellipse cx="1640" cy="1865" rx="205" ry="110" fill="#999999"/>
<ellipse cx="1480" cy="1850" rx="60" ry="50" fill="#8c8c8c"/>
<ellipse cx="1790" cy="1935" rx="60" ry="100" fill="#939393"/>
<ellipse cx="1560" cy="1712" rx="150" ry="22" fill="#6f6f6f" transform="rotate(8 1560 1712)"/>
<ellipse cx="1740" cy="1640" rx="90" ry="30" fill="#888888"/>
</g>
<polygon points="1471.3,1409.6 1492.7,1384.6 1602.0,1380.9 1634.2,1409.6 1648.8,1442.6 1689.1,1482.8 1707.4,1504.4 1689.1,1565.8 1637.9,1562.1 1602.0,1609.7 1547.6,1639.0 1522.0,1642.6 1492.7,1602.4 1471.3,1554.8 1456.8,1482.8" fill="#505050" filter="url(#b8)"/>
<path d="M1600,1612 L1700,1662 M1580,1640 L1660,1690 M1640,1580 L1720,1600" fill="none" stroke="#636363" stroke-width="12" stroke-linecap="round" filter="url(#b5)"/>
<polygon points="1490.5,1428.0 1508.0,1407.5 1597.6,1404.5 1624.0,1428.0 1636.0,1455.0 1669.0,1488.0 1684.0,1505.7 1669.0,1556.0 1627.0,1553.0 1597.6,1592.0 1553.0,1616.0 1532.0,1619.0 1508.0,1586.0 1490.5,1547.0 1478.6,1488.0" fill="#262626" filter="url(#b4)"/>
<ellipse cx="1586" cy="1500" rx="28" ry="56" fill="#000000" transform="rotate(-38 1586 1500)" filter="url(#b6)"/>
<ellipse cx="1645" cy="1732" rx="78" ry="14" fill="#616161" filter="url(#b8)"/>
<ellipse cx="1648" cy="1733" rx="20" ry="6" fill="#525252" filter="url(#b3)"/>
<polygon points="1558.2,1825.3 1573.0,1775.3 1623.3,1778.5 1667.7,1769.4 1765.3,1751.2 1741.6,1796.1 1777.4,1819.7 1756.6,1881.9 1726.7,1896.8 1696.8,1890.3 1652.6,1920.2 1629.2,1941.0 1602.5,1920.2 1573.0,1873.0" fill="#a2a2a2" filter="url(#b12)"/>
<polygon points="1583.4,1830.0 1594.8,1791.5 1633.5,1794.0 1667.6,1787.0 1742.7,1773.0 1724.5,1807.5 1752.0,1825.7 1736.0,1873.5 1713.0,1885.0 1690.0,1880.0 1656.0,1903.0 1638.0,1919.0 1617.5,1903.0 1594.8,1866.7" fill="#b5b5b5" filter="url(#b5)"/>
<polygon points="1633.5,1839.0 1667.6,1798.0 1724.5,1780.0 1742.7,1775.6 1713.0,1807.5 1690.0,1853.0 1656.0,1885.0 1638.0,1912.0 1622.0,1885.0" fill="#e6e6e6" filter="url(#b5)"/>
<ellipse cx="1797" cy="1926" rx="30" ry="72" fill="#a1a1a1" filter="url(#b10)"/>
<ellipse cx="1795" cy="1926" rx="12" ry="50" fill="#b5b5b5" filter="url(#b6)"/>
</g></g>
<rect x="1443.5" y="1256" width="437.5" height="907.0" fill="none" stroke="#262626" stroke-width="2.8"/>
<path d="M1492.0,1256 v6 M1492.0,2163 v-6" stroke="#262626" stroke-width="2.8" fill="none"/>
<path d="M1589.5,1256 v6 M1589.5,2163 v-6" stroke="#262626" stroke-width="2.8" fill="none"/>
<path d="M1687.0,1256 v6 M1687.0,2163 v-6" stroke="#262626" stroke-width="2.8" fill="none"/>
<path d="M1784.0,1256 v6 M1784.0,2163 v-6" stroke="#262626" stroke-width="2.8" fill="none"/>
<path d="M1877.0,1256 v6 M1877.0,2163 v-6" stroke="#262626" stroke-width="2.8" fill="none"/>
<path d="M1443.5,1320.6 h6 M1881,1320.6 h-6" stroke="#262626" stroke-width="2.8" fill="none"/>
<path d="M1443.5,1449.8 h6 M1881,1449.8 h-6" stroke="#262626" stroke-width="2.8" fill="none"/>
<path d="M1443.5,1579.5 h6 M1881,1579.5 h-6" stroke="#262626" stroke-width="2.8" fill="none"/>
<path d="M1443.5,1709.0 h6 M1881,1709.0 h-6" stroke="#262626" stroke-width="2.8" fill="none"/>
<path d="M1443.5,1838.5 h6 M1881,1838.5 h-6" stroke="#262626" stroke-width="2.8" fill="none"/>
<path d="M1443.5,1968.0 h6 M1881,1968.0 h-6" stroke="#262626" stroke-width="2.8" fill="none"/>
<path d="M1443.5,2097.5 h6 M1881,2097.5 h-6" stroke="#262626" stroke-width="2.8" fill="none"/>
<text x="1373.6" y="1338.1" font-size="48" fill="#262626" textLength="61.1" lengthAdjust="spacingAndGlyphs">-60</text>
<text x="1373.6" y="1467.3" font-size="48" fill="#262626" textLength="61.1" lengthAdjust="spacingAndGlyphs">-40</text>
<text x="1373.6" y="1597.0" font-size="48" fill="#262626" textLength="61.1" lengthAdjust="spacingAndGlyphs">-20</text>
<text x="1411.2" y="1726.5" font-size="48" fill="#262626" textLength="23.5" lengthAdjust="spacingAndGlyphs">0</text>
<text x="1387.7" y="1856.0" font-size="48" fill="#262626" textLength="47.0" lengthAdjust="spacingAndGlyphs">20</text>
<text x="1387.7" y="1985.5" font-size="48" fill="#262626" textLength="47.0" lengthAdjust="spacingAndGlyphs">40</text>
<text x="1387.7" y="2115.0" font-size="48" fill="#262626" textLength="47.0" lengthAdjust="spacingAndGlyphs">60</text>
<text x="1445.7" y="2207.0" font-size="48" fill="#262626" textLength="60.7" lengthAdjust="spacingAndGlyphs">-20</text>
<text x="1577.9" y="2207.0" font-size="48" fill="#262626" textLength="23.5" lengthAdjust="spacingAndGlyphs">0</text>
<text x="1661.3" y="2207.0" font-size="48" fill="#262626" textLength="46.3" lengthAdjust="spacingAndGlyphs">20</text>
<text x="1759.7" y="2207.0" font-size="48" fill="#262626" textLength="46.1" lengthAdjust="spacingAndGlyphs">40</text>
<text x="1850.3" y="2207.0" font-size="48" fill="#262626" textLength="45.9" lengthAdjust="spacingAndGlyphs">60</text>
<text x="1607.7" y="2268.0" font-size="60" fill="#262626" textLength="154.3" lengthAdjust="spacingAndGlyphs">x (μm)</text>
<text transform="translate(1371.7,1804.4) rotate(-90)" x="-0.2" y="0" font-size="62" fill="#262626" textLength="199.5" lengthAdjust="spacingAndGlyphs">y (μm)</text>
<text x="1748.5" y="1341.4" font-size="56" fill="#231815" textLength="93.7" lengthAdjust="spacingAndGlyphs">Exp</text>
<text x="1467.6" y="1367.3" font-size="46" fill="#231815" textLength="163.4" lengthAdjust="spacingAndGlyphs">Output 1</text>
<text x="1471.7" y="2069.6" font-size="46" fill="#231815" textLength="167.1" lengthAdjust="spacingAndGlyphs">Output 2</text>
<text x="1755.6" y="1513.0" font-size="57" fill="#1a73b8" textLength="34.8" lengthAdjust="spacingAndGlyphs">σ</text>
<text x="1788.5" y="1494.0" font-size="34" fill="#1a73b8" textLength="11.6" lengthAdjust="spacingAndGlyphs">-</text>
<text x="1748.1" y="1944.6" font-size="57" fill="#e8382f" textLength="36.8" lengthAdjust="spacingAndGlyphs">σ</text>
<text x="1780.3" y="1926.0" font-size="30" fill="#e8382f" textLength="20.4" lengthAdjust="spacingAndGlyphs">+</text>
<clipPath id="cd2"><rect x="1908.5" y="1252.5" width="439.5" height="910.5"/></clipPath>
<g clip-path="url(#cd2)"><g filter="url(#cm)">
<rect x="1868.5" y="1212.5" width="519.5" height="990.5" fill="#808080"/>
<g filter="url(#b14)">
<ellipse cx="2080" cy="1510" rx="88" ry="82" fill="#6e6e6e"/>
<ellipse cx="2080" cy="1912" rx="92" ry="90" fill="#919191"/>
</g>
<path d="M2060,1596 C2120,1586 2200,1588 2250,1606 M2080,1618 C2140,1608 2200,1616 2235,1630 M2150,1520 C2185,1524 2205,1532 2225,1545" fill="none" stroke="#666666" stroke-width="9" stroke-linecap="round" filter="url(#b5)"/>
<path d="M2165,1552 C2195,1551 2215,1553 2232,1557" fill="none" stroke="#8f8f8f" stroke-width="7" stroke-linecap="round" filter="url(#b4)"/>
<g filter="url(#b8)"><path d="M2001.7,1584.0 L2009.0,1556.0 L2018.0,1526.5 L2027.0,1496.7 L2038.9,1471.4 L2052.3,1456.5 L2068.6,1447.6 L2088.0,1444.6 L2102.9,1449.0 L2114.8,1459.5 L2119.2,1474.4 L2117.7,1492.0 L2108.0,1512.0 L2092.0,1530.0 L2075.0,1545.0 L2055.0,1558.0 L2040.0,1564.0 L2030.0,1570.0 L2019.5,1579.0 Z" fill="#505050" stroke="#505050" stroke-width="22" stroke-linejoin="round"/><path d="M2100.0,1506.0 L2140.0,1495.0 M2105.0,1523.0 L2155.0,1513.0 M2085.0,1535.0 L2130.0,1524.0 M2120.0,1543.0 L2146.0,1542.0 M2078.0,1549.0 L2124.0,1548.0 M2055.0,1571.0 L2094.0,1561.0" fill="none" stroke="#505050" stroke-width="21" stroke-linecap="round"/></g>
<g filter="url(#b2)"><path d="M2001.7,1584.0 L2009.0,1556.0 L2018.0,1526.5 L2027.0,1496.7 L2038.9,1471.4 L2052.3,1456.5 L2068.6,1447.6 L2088.0,1444.6 L2102.9,1449.0 L2114.8,1459.5 L2119.2,1474.4 L2117.7,1492.0 L2108.0,1512.0 L2092.0,1530.0 L2075.0,1545.0 L2055.0,1558.0 L2040.0,1564.0 L2030.0,1570.0 L2019.5,1579.0 Z" fill="#262626"/><path d="M2100.0,1506.0 L2140.0,1495.0 M2105.0,1523.0 L2155.0,1513.0 M2085.0,1535.0 L2130.0,1524.0 M2120.0,1543.0 L2146.0,1542.0 M2078.0,1549.0 L2124.0,1548.0 M2055.0,1571.0 L2094.0,1561.0" fill="none" stroke="#262626" stroke-width="7" stroke-linecap="round"/></g>
<ellipse cx="2066" cy="1510" rx="22" ry="48" fill="#171717" transform="rotate(22 2066 1510)" filter="url(#b10)"/>
<path d="M2037,1823 C2080,1826 2120,1832 2183,1848 M2100,1842 C2140,1845 2180,1850 2215,1858 M2150,1932 C2170,1934 2190,1937 2205,1942" fill="none" stroke="#9e9e9e" stroke-width="9" stroke-linecap="round" filter="url(#b5)"/>
<g filter="url(#b8)"><path d="M1997.0,1813.0 L2003.0,1839.5 L2010.6,1869.0 L2018.0,1899.0 L2025.5,1929.0 L2037.4,1951.0 L2052.3,1967.5 L2073.0,1976.4 L2094.0,1978.0 L2114.8,1967.5 L2128.2,1948.0 L2135.6,1929.0 L2125.0,1912.0 L2105.0,1897.0 L2085.0,1885.0 L2064.0,1873.0 L2049.0,1862.0 L2034.0,1850.0 L2019.5,1838.0 Z" fill="#a2a2a2" stroke="#a2a2a2" stroke-width="22" stroke-linejoin="round"/><path d="M2056.7,1850.0 L2101.4,1863.3 M2079.0,1860.4 L2150.0,1879.0 M2089.5,1882.7 L2140.0,1900.0 M2108.8,1899.0 L2165.0,1912.5 M2101.4,1914.0 L2143.0,1923.0 M2123.7,1928.8 L2152.0,1932.5" fill="none" stroke="#a2a2a2" stroke-width="22" stroke-linecap="round"/></g>
<g filter="url(#b2)"><path d="M1997.0,1813.0 L2003.0,1839.5 L2010.6,1869.0 L2018.0,1899.0 L2025.5,1929.0 L2037.4,1951.0 L2052.3,1967.5 L2073.0,1976.4 L2094.0,1978.0 L2114.8,1967.5 L2128.2,1948.0 L2135.6,1929.0 L2125.0,1912.0 L2105.0,1897.0 L2085.0,1885.0 L2064.0,1873.0 L2049.0,1862.0 L2034.0,1850.0 L2019.5,1838.0 Z" fill="#c2c2c2"/><path d="M2056.7,1850.0 L2101.4,1863.3 M2079.0,1860.4 L2150.0,1879.0 M2089.5,1882.7 L2140.0,1900.0 M2108.8,1899.0 L2165.0,1912.5 M2101.4,1914.0 L2143.0,1923.0 M2123.7,1928.8 L2152.0,1932.5" fill="none" stroke="#c2c2c2" stroke-width="8" stroke-linecap="round"/></g>
<ellipse cx="2068" cy="1915" rx="30" ry="62" fill="#dedede" transform="rotate(-27 2068 1915)" filter="url(#b8)"/>
<ellipse cx="2060" cy="1914" rx="13" ry="42" fill="#ededed" transform="rotate(-27 2060 1914)" filter="url(#b6)"/>
</g></g>
<rect x="1908.5" y="1252.5" width="439.5" height="910.5" fill="none" stroke="#262626" stroke-width="2.8"/>
<path d="M2002.8,1252.5 v7" stroke="#262626" stroke-width="2.8" fill="none"/>
<path d="M2095.2,1252.5 v7" stroke="#262626" stroke-width="2.8" fill="none"/>
<path d="M2188,1252.5 v7" stroke="#262626" stroke-width="2.8" fill="none"/>
<path d="M2280.9,1252.5 v7" stroke="#262626" stroke-width="2.8" fill="none"/>
<path d="M1959.9,2163 v-7" stroke="#262626" stroke-width="2.8" fill="none"/>
<path d="M2056,2163 v-7" stroke="#262626" stroke-width="2.8" fill="none"/>
<path d="M2152,2163 v-7" stroke="#262626" stroke-width="2.8" fill="none"/>
<path d="M2249.4,2163 v-7" stroke="#262626" stroke-width="2.8" fill="none"/>
<path d="M2336.2,2163 v-7" stroke="#262626" stroke-width="2.8" fill="none"/>
<path d="M1908.5,1314.9 h6 M2348,1314.9 h-6" stroke="#262626" stroke-width="2.8" fill="none"/>
<path d="M1908.5,1444.4 h6 M2348,1444.4 h-6" stroke="#262626" stroke-width="2.8" fill="none"/>
<path d="M1908.5,1574.2 h6 M2348,1574.2 h-6" stroke="#262626" stroke-width="2.8" fill="none"/>
<path d="M1908.5,1703.5 h6 M2348,1703.5 h-6" stroke="#262626" stroke-width="2.8" fill="none"/>
<path d="M1908.5,1833.3 h6 M2348,1833.3 h-6" stroke="#262626" stroke-width="2.8" fill="none"/>
<path d="M1908.5,1963.4 h6 M2348,1963.4 h-6" stroke="#262626" stroke-width="2.8" fill="none"/>
<path d="M1908.5,2093.0 h6 M2348,2093.0 h-6" stroke="#262626" stroke-width="2.8" fill="none"/>
<text x="1922.6" y="2207.0" font-size="48" fill="#262626" textLength="60.1" lengthAdjust="spacingAndGlyphs">-20</text>
<text x="2044.3" y="2207.0" font-size="48" fill="#262626" textLength="23.5" lengthAdjust="spacingAndGlyphs">0</text>
<text x="2129.6" y="2207.0" font-size="48" fill="#262626" textLength="47.0" lengthAdjust="spacingAndGlyphs">20</text>
<text x="2228.0" y="2207.0" font-size="48" fill="#262626" textLength="47.0" lengthAdjust="spacingAndGlyphs">40</text>
<text x="2322.3" y="2200.0" font-size="48" fill="#262626" textLength="47.0" lengthAdjust="spacingAndGlyphs">60</text>
<text x="2086.4" y="2268.0" font-size="60" fill="#262626" textLength="155.8" lengthAdjust="spacingAndGlyphs">x (μm)</text>
<text x="2147.4" y="1338.0" font-size="57" fill="#231815" textLength="166.7" lengthAdjust="spacingAndGlyphs">Theory</text>
<text x="2249.3" y="1510.0" font-size="57" fill="#1a73b8" textLength="34.4" lengthAdjust="spacingAndGlyphs">σ</text>
<text x="2282.4" y="1491.0" font-size="34" fill="#1a73b8" textLength="12.0" lengthAdjust="spacingAndGlyphs">-</text>
<text x="2262.7" y="1941.2" font-size="57" fill="#e8382f" textLength="33.9" lengthAdjust="spacingAndGlyphs">σ</text>
<text x="2294.3" y="1922.0" font-size="30" fill="#e8382f" textLength="20.9" lengthAdjust="spacingAndGlyphs">+</text>
<rect x="2370.4" y="1250" width="41.6" height="911.0" fill="url(#cbar)" stroke="#262626" stroke-width="2.8"/>
<path d="M2412,1341.0 h-7" stroke="#262626" stroke-width="2.8" fill="none"/>
<text x="2420.7" y="1352.5" font-size="33" fill="#262626" textLength="45.9" lengthAdjust="spacingAndGlyphs">0.4</text>
<path d="M2412,1432.1 h-7" stroke="#262626" stroke-width="2.8" fill="none"/>
<text x="2420.7" y="1443.6" font-size="33" fill="#262626" textLength="45.9" lengthAdjust="spacingAndGlyphs">0.3</text>
<path d="M2412,1523.2 h-7" stroke="#262626" stroke-width="2.8" fill="none"/>
<text x="2420.7" y="1534.7" font-size="33" fill="#262626" textLength="45.9" lengthAdjust="spacingAndGlyphs">0.2</text>
<path d="M2412,1614.3 h-7" stroke="#262626" stroke-width="2.8" fill="none"/>
<text x="2420.7" y="1625.8" font-size="33" fill="#262626" textLength="45.9" lengthAdjust="spacingAndGlyphs">0.1</text>
<path d="M2412,1705.4 h-7" stroke="#262626" stroke-width="2.8" fill="none"/>
<text x="2420.7" y="1716.9" font-size="33" fill="#262626" textLength="18.4" lengthAdjust="spacingAndGlyphs">0</text>
<path d="M2412,1796.5 h-7" stroke="#262626" stroke-width="2.8" fill="none"/>
<text x="2414.5" y="1808.0" font-size="33" fill="#262626" textLength="56.9" lengthAdjust="spacingAndGlyphs">-0.1</text>
<path d="M2412,1887.6 h-7" stroke="#262626" stroke-width="2.8" fill="none"/>
<text x="2414.5" y="1899.1" font-size="33" fill="#262626" textLength="56.9" lengthAdjust="spacingAndGlyphs">-0.2</text>
<path d="M2412,1978.7 h-7" stroke="#262626" stroke-width="2.8" fill="none"/>
<text x="2414.5" y="1990.2" font-size="33" fill="#262626" textLength="56.9" lengthAdjust="spacingAndGlyphs">-0.3</text>
<path d="M2412,2069.8 h-7" stroke="#262626" stroke-width="2.8" fill="none"/>
<text x="2414.5" y="2081.3" font-size="33" fill="#262626" textLength="56.9" lengthAdjust="spacingAndGlyphs">-0.4</text>
<text x="2420.7" y="1272.0" font-size="33" fill="#262626" textLength="45.9" lengthAdjust="spacingAndGlyphs">0.5</text>
<text x="2415.5" y="2161.0" font-size="33" fill="#262626" textLength="56.9" lengthAdjust="spacingAndGlyphs">-0.5</text>
</g>
</svg></body></html>
